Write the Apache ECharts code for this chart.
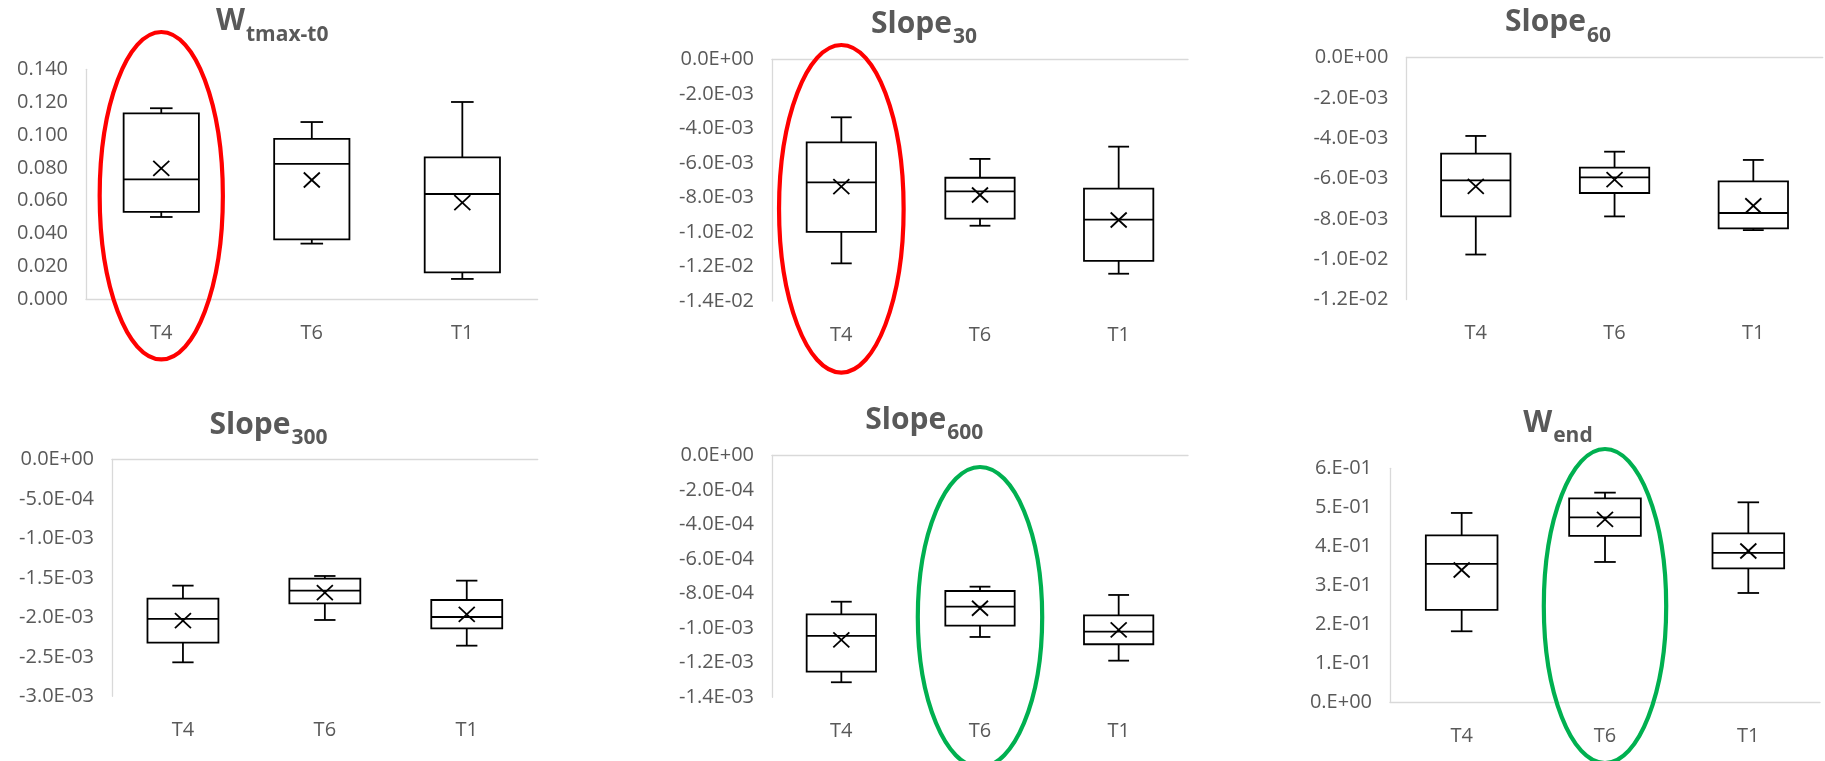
<!DOCTYPE html>
<html>
<head>
<meta charset="utf-8">
<title>Box plots</title>
<script src="https://cdn.jsdelivr.net/npm/echarts@6/dist/echarts.min.js"></script>
<style>
  html, body { margin: 0; padding: 0; background: #ffffff; }
  #chart { width: 1825px; height: 761px; }
</style>
</head>
<body>
<div id="chart"></div>
<script>
// Treatment groups on every x axis
const categories = ['T4', 'T6', 'T1'];

// Five-number summaries per group: [min, Q1, median, Q3, max]
const wTmaxT0 = [
  [0.0501, 0.0532, 0.0730, 0.1132, 0.1163],
  [0.0339, 0.0365, 0.0824, 0.0976, 0.1079],
  [0.0124, 0.0164, 0.0641, 0.0864, 0.1201]
];
const wTmaxT0Mean = [0.0797, 0.0726, 0.0588];

const slope30 = [
  [-0.01182, -0.01000, -0.00713, -0.00481, -0.00336],
  [-0.00964, -0.00923, -0.00765, -0.00686, -0.00577],
  [-0.01242, -0.01168, -0.00929, -0.00749, -0.00506]
];
const slope30Mean = [-0.00738, -0.00786, -0.00931];

const slope60 = [
  [-0.00977, -0.00788, -0.00609, -0.00477, -0.00389],
  [-0.00788, -0.00672, -0.00594, -0.00546, -0.00467],
  [-0.00856, -0.00847, -0.00771, -0.00614, -0.00508]
];
const slope60Mean = [-0.00639, -0.00606, -0.00735];

const slope300 = [
  [-0.002570, -0.002321, -0.002021, -0.001764, -0.001599],
  [-0.002034, -0.001823, -0.001662, -0.001511, -0.001477],
  [-0.002359, -0.002139, -0.001996, -0.001781, -0.001536]
];
const slope300Mean = [-0.002042, -0.001688, -0.001962];

const slope600 = [
  [-0.001313, -0.001251, -0.001045, -0.000920, -0.000847],
  [-0.001051, -0.000985, -0.000875, -0.000785, -0.000760],
  [-0.001188, -0.001093, -0.001020, -0.000926, -0.000808]
];
const slope600Mean = [-0.001068, -0.000885, -0.001010];

const wEnd = [
  [0.1821, 0.2368, 0.3547, 0.4282, 0.4855],
  [0.3598, 0.4265, 0.4744, 0.5231, 0.5376],
  [0.2803, 0.3436, 0.3829, 0.4333, 0.5128]
];
const wEndMean = [0.3393, 0.4692, 0.3880];

// Panel titles: main word and subscript
const titleMain = ['W', 'Slope', 'Slope', 'Slope', 'Slope', 'W'];
const titleSub = ['tmax-t0', '30', '60', '300', '600', 'end'];

// Value axis ranges: [min, max, interval]
const axisRanges = [
  [0, 0.14, 0.02],
  [-0.014, 0, 0.002],
  [-0.012, 0, 0.002],
  [-0.003, 0, 0.0005],
  [-0.0014, 0, 0.0002],
  [0, 0.6, 0.1]
];

const panelStats = [wTmaxT0, slope30, slope60, slope300, slope600, wEnd];
const panelMeans = [wTmaxT0Mean, slope30Mean, slope60Mean, slope300Mean, slope600Mean, wEndMean];

// ---- layout ----
const gridBoxes = [
  { left: 86,   top: 69.3,  width: 451.6, height: 230 },
  { left: 772,  top: 59.3,  width: 416,   height: 241.7 },
  { left: 1406.4, top: 57.5, width: 416.3, height: 242 },
  { left: 112,  top: 459.3, width: 425.7, height: 237 },
  { left: 772,  top: 455.3, width: 416,   height: 242 },
  { left: 1390, top: 468.3, width: 430,   height: 234 }
];
// split point between main word and subscript, and main baseline
const titleAnchors = [
  [245, 33.3], [952, 36], [1586, 34.3], [290.5, 436.7], [946.3, 431.7], [1552.2, 435]
];

const FONT = '"Open Sans", "Liberation Sans", sans-serif';
const TEXT_GREY = '#595959';
const AXIS_GREY = '#D9D9D9';

// Excel-style scientific labels, e.g. -2.0E-03 or 6.E-01
function sciLabel(v, digits) {
  if (Math.abs(v) < 1e-12) return digits ? '0.' + '0'.repeat(digits) + 'E+00' : '0.E+00';
  const s = v.toExponential(digits);
  const parts = s.split('e');
  let mant = parts[0];
  if (digits === 0) mant += '.';
  const e = parseInt(parts[1], 10);
  const exp = (e < 0 ? '-' : '+') + String(Math.abs(e)).padStart(2, '0');
  return mant + 'E' + exp;
}

const labelFormatters = [
  v => v.toFixed(3),
  v => sciLabel(v, 1),
  v => sciLabel(v, 1),
  v => sciLabel(v, 1),
  v => sciLabel(v, 1),
  v => sciLabel(v, 0)
];

function renderBox(params, api) {
  const c = api.value(0);
  const pt = i => api.coord([c, api.value(i)]);
  const x = pt(1)[0];
  const band = api.size([1, 0])[0];
  const half = band * 0.25;
  const cap = band * 0.075;
  const yMin = pt(1)[1], yQ1 = pt(2)[1], yMed = pt(3)[1], yQ3 = pt(4)[1], yMax = pt(5)[1], yMean = pt(6)[1];
  const ls = { stroke: '#000', lineWidth: 1.8, fill: null };
  const mx = 8, my = 7.5;
  return {
    type: 'group',
    children: [
      { type: 'line', shape: { x1: x, y1: yQ3, x2: x, y2: yMax }, style: ls },
      { type: 'line', shape: { x1: x - cap, y1: yMax, x2: x + cap, y2: yMax }, style: ls },
      { type: 'line', shape: { x1: x, y1: yQ1, x2: x, y2: yMin }, style: ls },
      { type: 'line', shape: { x1: x - cap, y1: yMin, x2: x + cap, y2: yMin }, style: ls },
      { type: 'rect', shape: { x: x - half, y: yQ3, width: 2 * half, height: yQ1 - yQ3 },
        style: { fill: '#ffffff', stroke: '#000', lineWidth: 1.8 } },
      { type: 'line', shape: { x1: x - half, y1: yMed, x2: x + half, y2: yMed }, style: ls },
      { type: 'line', shape: { x1: x - mx, y1: yMean - my, x2: x + mx, y2: yMean + my }, style: ls },
      { type: 'line', shape: { x1: x - mx, y1: yMean + my, x2: x + mx, y2: yMean - my }, style: ls }
    ]
  };
}

const grids = [], xAxes = [], yAxes = [], series = [];
panelStats.forEach((stats, i) => {
  grids.push(Object.assign({ outerBoundsMode: 'none', containLabel: false }, gridBoxes[i]));
  xAxes.push({
    type: 'category', gridIndex: i, data: categories, boundaryGap: true,
    axisLine: { show: true, lineStyle: { color: AXIS_GREY, width: 1.3 } },
    axisTick: { show: false },
    axisLabel: { color: TEXT_GREY, fontFamily: FONT, fontSize: 20, margin: 24 },
    splitLine: { show: false }
  });
  const r = axisRanges[i];
  yAxes.push({
    type: 'value', gridIndex: i, min: r[0], max: r[1], interval: r[2],
    axisLine: { show: true, lineStyle: { color: AXIS_GREY, width: 1.3 } },
    axisTick: { show: false },
    splitLine: { show: false },
    axisLabel: { color: TEXT_GREY, fontFamily: FONT, fontSize: 20, margin: 18, formatter: labelFormatters[i] }
  });
  series.push({
    type: 'custom', xAxisIndex: i, yAxisIndex: i,
    renderItem: renderBox,
    encode: { x: 0, y: [1, 2, 3, 4, 5, 6] },
    data: stats.map((s, k) => [k].concat(s, [panelMeans[i][k]])),
    silent: true,
    clip: false
  });
});

const chart = echarts.init(document.getElementById('chart'), null, { renderer: 'canvas' });
chart.setOption({
  animation: false,
  backgroundColor: '#ffffff',
  grid: grids,
  xAxis: xAxes,
  yAxis: yAxes,
  series: series
});

// Titles with subscripts
const graphics = [];
titleMain.forEach((main, i) => {
  const [sx, base] = titleAnchors[i];
  graphics.push({
    type: 'text', x: sx, y: base - 0.388 * 30, z: 10,
    style: { text: main, font: 'bold 30px ' + FONT, fill: TEXT_GREY, align: 'right', verticalAlign: 'middle' }
  });
  graphics.push({
    type: 'text', x: sx + 1, y: base + 9.5 - 0.388 * 21, z: 10,
    style: { text: titleSub[i], font: 'bold 21px ' + FONT, fill: TEXT_GREY, align: 'left', verticalAlign: 'middle' }
  });
});

// Highlight rings around selected groups
const rings = [
  { grid: 0, cat: 'T4', cy: 195.7, rx: 61.6, ry: 163.7, color: '#FF0000' },
  { grid: 1, cat: 'T4', cy: 208.8, rx: 62.3, ry: 163.8, color: '#FF0000' },
  { grid: 4, cat: 'T6', cy: 617,   rx: 62.2, ry: 150,   color: '#00B050' },
  { grid: 5, cat: 'T6', cy: 606,   rx: 61.2, ry: 157,   color: '#00B050' }
];
rings.forEach(r => {
  const cx = chart.convertToPixel({ xAxisIndex: r.grid }, r.cat);
  graphics.push({
    type: 'ellipse', z: 20,
    shape: { cx: cx, cy: r.cy, rx: r.rx, ry: r.ry },
    style: { fill: null, stroke: r.color, lineWidth: 4.2 }
  });
});

chart.setOption({ graphic: graphics });
</script>
</body>
</html>
